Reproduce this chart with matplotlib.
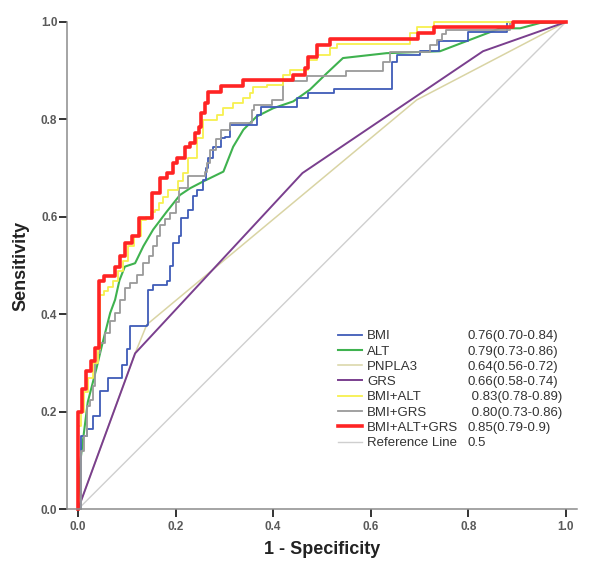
import matplotlib
matplotlib.use('Agg')
import matplotlib.pyplot as plt
from matplotlib.lines import Line2D

plt.rcParams['font.family'] = ['Liberation Sans', 'DejaVu Sans']

# ROC points (fpr, tpr)
bmi_fpr = [0, 0.006, 0.018, 0.031, 0.045, 0.062, 0.090, 0.100, 0.107, 0.141, 0.144, 0.154, 0.182, 0.188,
           0.195, 0.206, 0.212, 0.226, 0.236, 0.243, 0.257, 0.262, 0.267, 0.277, 0.294, 0.301, 0.311, 0.366,
           0.376, 0.448, 0.472, 0.525, 0.643, 0.653, 0.700, 0.740, 0.800, 0.880, 1.0]
bmi_tpr = [0, 0.150, 0.164, 0.191, 0.242, 0.270, 0.297, 0.330, 0.376, 0.379, 0.451, 0.461, 0.468, 0.500,
           0.546, 0.560, 0.598, 0.615, 0.642, 0.656, 0.676, 0.700, 0.721, 0.744, 0.762, 0.765, 0.789, 0.809,
           0.826, 0.843, 0.854, 0.862, 0.918, 0.932, 0.940, 0.960, 0.980, 1.0, 1.0]

alt_fpr = [0, 0.005, 0.020, 0.038, 0.050, 0.066, 0.076, 0.085, 0.096, 0.117, 0.134, 0.154, 0.182, 0.209,
           0.230, 0.257, 0.298, 0.318, 0.339, 0.366, 0.400, 0.441, 0.475, 0.510, 0.543, 0.632, 0.742, 0.865,
           0.906, 0.947, 1.0]
alt_tpr = [0, 0.100, 0.220, 0.290, 0.340, 0.403, 0.430, 0.470, 0.498, 0.505, 0.540, 0.574, 0.611, 0.645,
           0.659, 0.673, 0.693, 0.744, 0.779, 0.806, 0.823, 0.837, 0.861, 0.895, 0.926, 0.936, 0.940, 0.987,
           0.987, 0.998, 1.0]

pnpla3_fpr = [0, 0.117, 0.141, 0.694, 1.0]
pnpla3_tpr = [0, 0.320, 0.379, 0.840, 1.0]

grs_fpr = [0, 0.117, 0.460, 0.830, 1.0]
grs_tpr = [0, 0.320, 0.690, 0.940, 1.0]

bmi_alt_fpr = [0, 0, 0.006, 0.012, 0.020, 0.030, 0.040, 0.046, 0.054, 0.062, 0.072, 0.082, 0.092, 0.102,
               0.114, 0.130, 0.140, 0.150, 0.158, 0.165, 0.175, 0.185, 0.205, 0.215, 0.226, 0.243, 0.257,
               0.284, 0.298, 0.318, 0.339, 0.352, 0.359, 0.387, 0.420, 0.434, 0.472, 0.489, 0.516, 0.530,
               0.680, 0.694, 0.730, 1.0]
bmi_alt_tpr = [0, 0.170, 0.200, 0.240, 0.270, 0.300, 0.330, 0.440, 0.447, 0.457, 0.468, 0.490, 0.510, 0.540,
               0.560, 0.594, 0.600, 0.610, 0.615, 0.628, 0.640, 0.655, 0.673, 0.690, 0.721, 0.762, 0.799,
               0.809, 0.823, 0.834, 0.843, 0.854, 0.867, 0.871, 0.891, 0.902, 0.922, 0.932, 0.946, 0.955,
               0.977, 0.989, 1.0, 1.0]

bmi_grs_fpr = [0, 0.006, 0.012, 0.018, 0.025, 0.031, 0.035, 0.040, 0.045, 0.055, 0.066, 0.076, 0.086, 0.096,
               0.107, 0.120, 0.134, 0.145, 0.154, 0.161, 0.168, 0.178, 0.189, 0.200, 0.206, 0.226, 0.260,
               0.264, 0.270, 0.282, 0.294, 0.311, 0.356, 0.360, 0.397, 0.420, 0.470, 0.550, 0.626, 0.640,
               0.722, 0.735, 0.745, 0.755, 0.885, 1.0]
bmi_grs_tpr = [0, 0.120, 0.150, 0.212, 0.225, 0.253, 0.300, 0.320, 0.342, 0.362, 0.386, 0.403, 0.430, 0.454,
               0.465, 0.480, 0.505, 0.520, 0.540, 0.560, 0.584, 0.595, 0.608, 0.630, 0.659, 0.683, 0.693,
               0.710, 0.738, 0.760, 0.779, 0.792, 0.820, 0.830, 0.840, 0.878, 0.890, 0.900, 0.918, 0.939,
               0.953, 0.963, 0.975, 0.984, 1.0, 1.0]

all3_fpr = [0, 0, 0.008, 0.016, 0.026, 0.035, 0.044, 0.053, 0.076, 0.086, 0.096, 0.110, 0.124, 0.151, 0.168,
            0.182, 0.195, 0.202, 0.219, 0.230, 0.240, 0.247, 0.253, 0.260, 0.267, 0.294, 0.339, 0.440, 0.465,
            0.472, 0.490, 0.516, 0.696, 0.730, 0.892, 1.0]
all3_tpr = [0, 0.199, 0.246, 0.283, 0.304, 0.331, 0.468, 0.478, 0.498, 0.519, 0.546, 0.560, 0.598, 0.649, 0.680,
            0.690, 0.710, 0.720, 0.744, 0.751, 0.772, 0.785, 0.813, 0.833, 0.857, 0.868, 0.881, 0.891, 0.905,
            0.929, 0.953, 0.965, 0.977, 0.989, 1.0, 1.0]

ref_x = [0, 1]
ref_y = [0, 1]

labels = ['BMI', 'ALT', 'PNPLA3', 'GRS', 'BMI+ALT', 'BMI+GRS', 'BMI+ALT+GRS', 'Reference Line']
auc_text = ['0.76(0.70-0.84)', '0.79(0.73-0.86)', '0.64(0.56-0.72)', '0.66(0.58-0.74)',
            ' 0.83(0.78-0.89)', ' 0.80(0.73-0.86)', '0.85(0.79-0.9)', '0.5']
colors = ['#3f5cb8', '#3fb24f', '#d9d4a4', '#7a3f8e', '#f7f04e', '#9a9a9a', '#ff2424', '#cfcfcf']
widths = [1.3, 1.5, 1.1, 1.4, 1.3, 1.3, 2.6, 1.0]

fig = plt.figure(figsize=(6.01, 5.71), dpi=100)
ax = fig.add_axes([0.1115, 0.108, 0.8485, 0.8535])

ax.plot(ref_x, ref_y, color=colors[7], lw=widths[7], clip_on=False)
ax.plot(pnpla3_fpr, pnpla3_tpr, color=colors[2], lw=widths[2], clip_on=False)
ax.plot(grs_fpr, grs_tpr, color=colors[3], lw=widths[3], clip_on=False)
ax.plot(alt_fpr, alt_tpr, color=colors[1], lw=widths[1], clip_on=False)
ax.plot(bmi_fpr, bmi_tpr, color=colors[0], lw=widths[0], drawstyle='steps-post', clip_on=False)
ax.plot(bmi_grs_fpr, bmi_grs_tpr, color=colors[5], lw=widths[5], drawstyle='steps-post', clip_on=False)
ax.plot(bmi_alt_fpr, bmi_alt_tpr, color=colors[4], lw=widths[4], drawstyle='steps-post', clip_on=False)
ax.plot(all3_fpr, all3_tpr, color=colors[6], lw=widths[6], drawstyle='steps-post', clip_on=False)

ax.set_xlim(-0.0225, 1.0225)
ax.set_ylim(0, 1.0)
ax.set_xticks([0, 0.2, 0.4, 0.6, 0.8, 1.0])
ax.set_yticks([0, 0.2, 0.4, 0.6, 0.8, 1.0])
ax.set_xticklabels(['0.0', '0.2', '0.4', '0.6', '0.8', '1.0'])
ax.set_yticklabels(['0.0', '0.2', '0.4', '0.6', '0.8', '1.0'])

for s in ['top', 'right']:
    ax.spines[s].set_visible(False)
for s in ['left', 'bottom']:
    ax.spines[s].set_color('#8c8c8c')
    ax.spines[s].set_linewidth(1.1)

ax.tick_params(axis='both', direction='out', length=6, width=1.4, color='#333333',
               labelsize=8.5, labelcolor='#5a5a5a')
ax.tick_params(axis='y', pad=1)
ax.tick_params(axis='x', pad=2.5)
for t in ax.get_xticklabels() + ax.get_yticklabels():
    t.set_fontweight('bold')

ax.set_xlabel('1 - Specificity', fontsize=13, fontweight='bold', color='#222222', labelpad=6)
ax.set_ylabel('Sensitivity', fontsize=13, fontweight='bold', color='#222222', labelpad=8)

handles = [Line2D([], [], color=c, lw=w) for c, w in zip(colors, widths)]
leg = fig.legend(handles, labels, loc='upper left', bbox_to_anchor=(338 / 601, 1 - 330 / 571),
                 frameon=False, fontsize=9.5, handlelength=1.8, handletextpad=0.4,
                 labelspacing=0.23, borderpad=0, borderaxespad=0)
for t in leg.get_texts():
    t.set_color('#333333')

# put the AUC column on the same baselines as the legend labels
fig.canvas.draw()
inv = fig.transFigure.inverted()
for t, s in zip(leg.get_texts(), auc_text):
    x0, y0 = t.get_transform().transform(t.get_position())
    fx, fy = inv.transform((468, y0))
    fig.text(fx, fy, s, fontsize=9.5, color='#333333', va='baseline', ha='left')

fig.savefig('out.png', dpi=100)
